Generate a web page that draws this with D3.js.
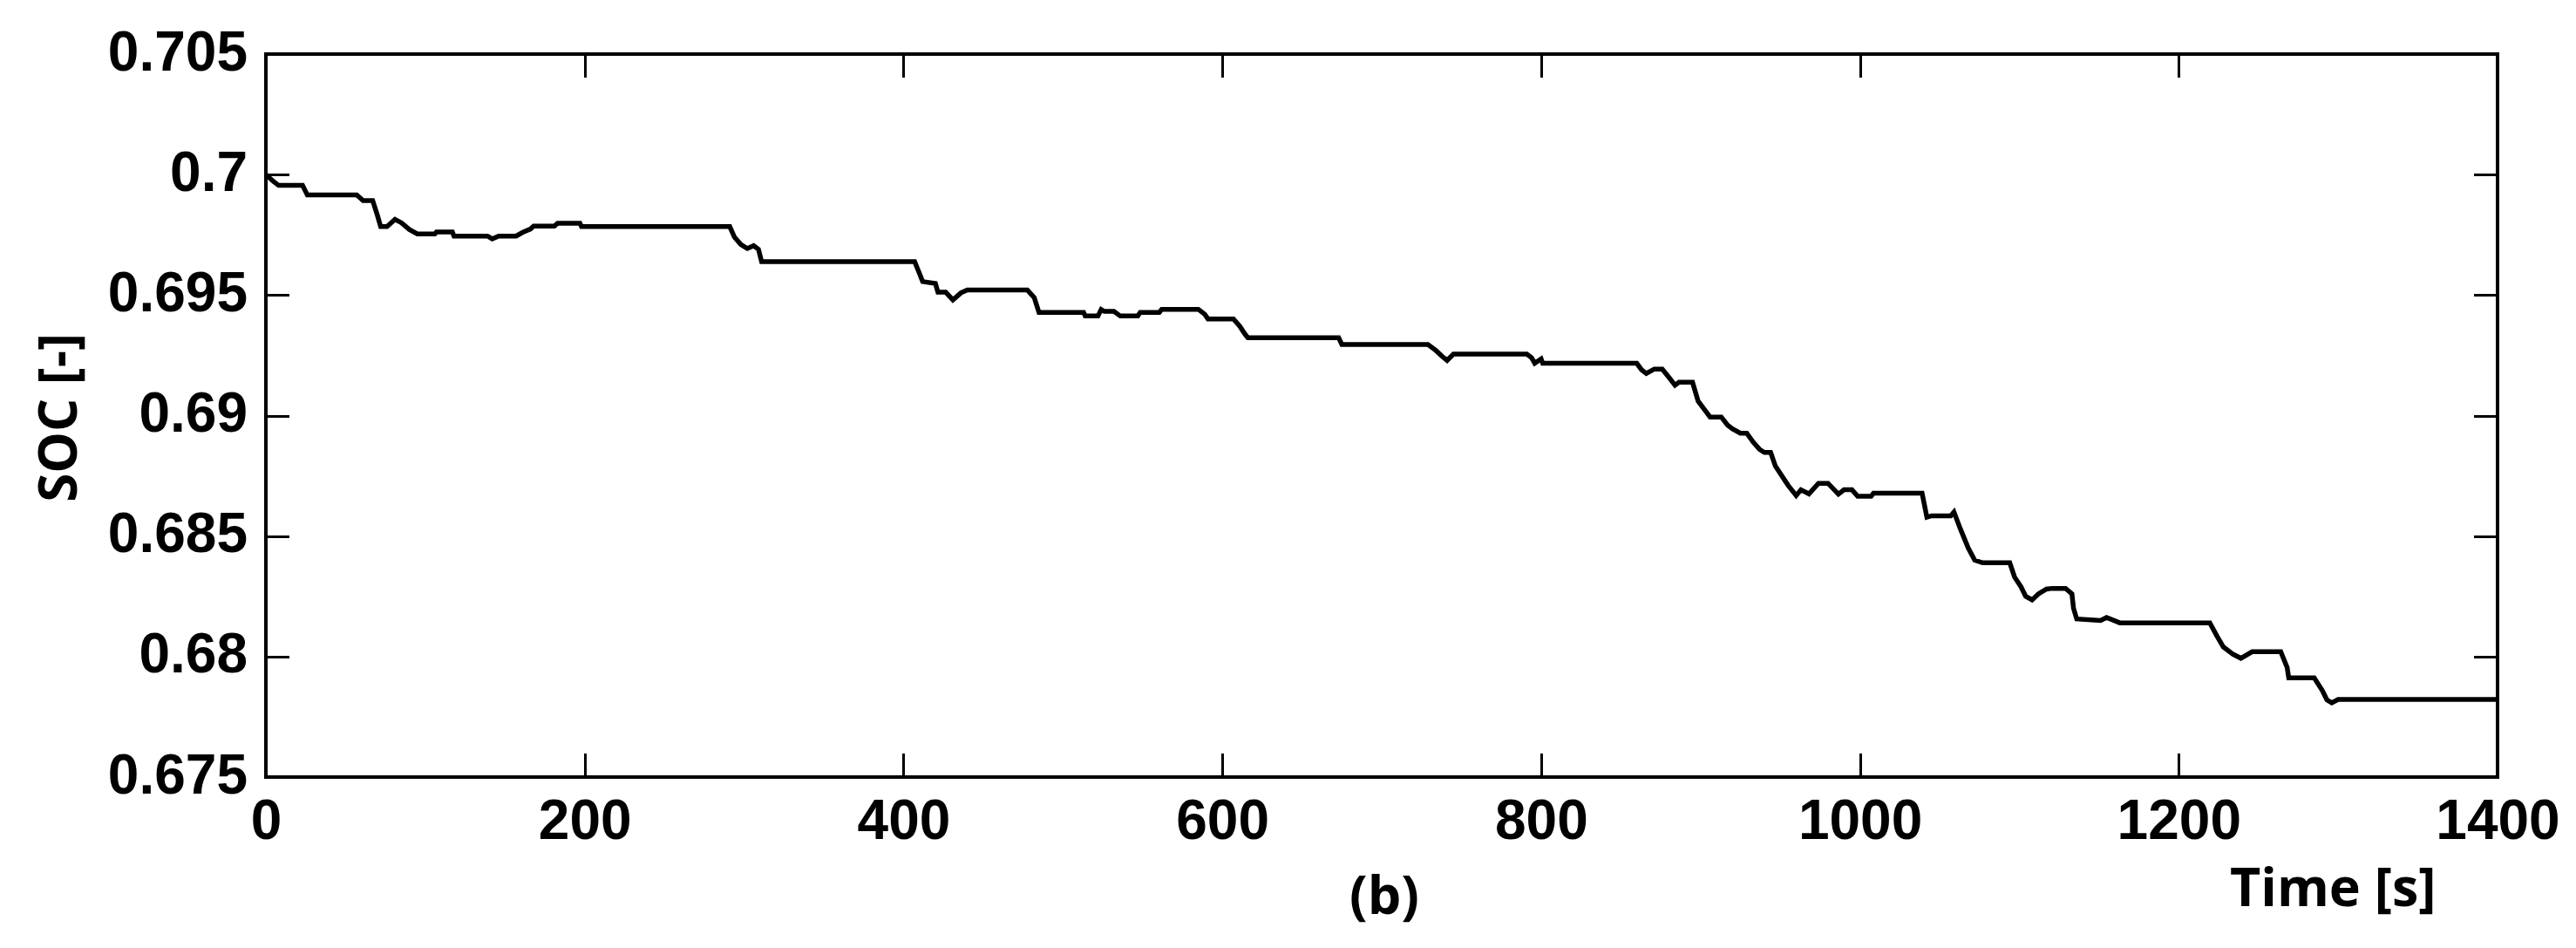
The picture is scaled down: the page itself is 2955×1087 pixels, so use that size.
<!DOCTYPE html>
<html>
<head>
<meta charset="utf-8">
<script src="https://cdn.jsdelivr.net/npm/d3@7"></script>
<style>
  html, body { margin: 0; padding: 0; background: #fff; }
  svg { display: block; }
</style>
</head>
<body>
<svg id="chart" width="2955" height="1087"></svg>
<script>
// ---- data ----
const timeS = [0, 5, 8, 23, 26, 57, 61, 67, 70, 72, 76, 81, 85, 90, 95, 106, 107, 117, 118, 139, 142, 146, 157, 161, 166, 168, 181, 183, 197, 198, 291, 294, 298, 302, 306, 309, 311, 407, 410, 412, 420, 421.6, 426.5, 431, 436, 440, 477.7, 482, 485, 513, 514, 522, 524, 526, 532, 536, 547, 548.5, 560.5, 562, 585, 589, 591, 607, 611, 614, 616, 673, 675, 729, 734, 738, 741, 745, 791, 794, 796, 800, 801, 860, 863, 866, 871, 876, 880, 884, 886.5, 895, 898.5, 903, 906, 913, 917, 920, 925, 929, 933, 937, 940, 944, 947, 950, 953, 955, 960, 963, 968, 974, 980, 986.5, 990, 995, 998.6, 1007, 1008.5, 1039, 1042, 1045, 1057, 1059, 1063, 1068, 1072, 1077, 1094, 1097, 1101, 1104, 1108, 1112, 1117, 1120.5, 1129, 1133, 1134, 1136, 1151, 1154.7, 1163, 1219.5, 1224, 1228, 1234, 1239, 1246, 1264, 1268, 1269, 1285, 1290, 1293, 1296, 1300, 1400];
const socValues = [0.7000, 0.6997, 0.69955, 0.69955, 0.69916, 0.69916, 0.69892, 0.69892, 0.6983, 0.69784, 0.69784, 0.69814, 0.69800, 0.69772, 0.69754, 0.69754, 0.69762, 0.69762, 0.69745, 0.69745, 0.69733, 0.69745, 0.69745, 0.6976, 0.69774, 0.69786, 0.69786, 0.69798, 0.69798, 0.69784, 0.69784, 0.6974, 0.6971, 0.69693, 0.69705, 0.6969, 0.69639, 0.69639, 0.6959, 0.69556, 0.69548, 0.69512, 0.69512, 0.6948, 0.69509, 0.69521, 0.69521, 0.6949, 0.69428, 0.69428, 0.69413, 0.69413, 0.6944, 0.69432, 0.69432, 0.69413, 0.69413, 0.69428, 0.69428, 0.69441, 0.69441, 0.6942, 0.69401, 0.69401, 0.6937, 0.6934, 0.69323, 0.69323, 0.69295, 0.69295, 0.6927, 0.69245, 0.69229, 0.69255, 0.69255, 0.6924, 0.69217, 0.69235, 0.69217, 0.69217, 0.6919, 0.69175, 0.69193, 0.69193, 0.6916, 0.69126, 0.69138, 0.69138, 0.6906, 0.6902, 0.68994, 0.68994, 0.6896, 0.68945, 0.68927, 0.68927, 0.6889, 0.6886, 0.68847, 0.68847, 0.6879, 0.6876, 0.6873, 0.6871, 0.68668, 0.68692, 0.68675, 0.68719, 0.68719, 0.68674, 0.68692, 0.68692, 0.68665, 0.68665, 0.68678, 0.68678, 0.68578, 0.68584, 0.68584, 0.6860, 0.6853, 0.6845, 0.6840, 0.68389, 0.68389, 0.6833, 0.6829, 0.6825, 0.68235, 0.6826, 0.6828, 0.68283, 0.68283, 0.6826, 0.6820, 0.68156, 0.6815, 0.68162, 0.6814, 0.6814, 0.68085, 0.6804, 0.6801, 0.67993, 0.6802, 0.6802, 0.67955, 0.67912, 0.67912, 0.6786, 0.6782, 0.67808, 0.67822, 0.67822];
const xTicks = [0, 200, 400, 600, 800, 1000, 1200, 1400];
const yTicks = [0.675, 0.68, 0.685, 0.69, 0.695, 0.7, 0.705];
const yTickLabels = ["0.675", "0.68", "0.685", "0.69", "0.695", "0.7", "0.705"];
const xLabel = "Time [s]";
const yLabel = "SOC [-]";
const panelLabel = "(b)";
const topPanelLabel = "(a)";

// ---- layout ----
const svg = d3.select("#chart");
const L = 305, R = 2865, T = 62, B = 891;
const x = d3.scaleLinear().domain([0, 1400]).range([L, R]);
const y = d3.scaleLinear().domain([0.675, 0.705]).range([B, T]);

const tickFont = "'Liberation Sans', Arial, sans-serif";
const labelFont = "'Open Sans', 'Noto Sans', sans-serif";

// axes with inward ticks on all four sides
const tickLen = 27;
const gB = svg.append("g").attr("transform", `translate(0,${B})`)
  .call(d3.axisBottom(x).tickValues(xTicks).tickSize(-tickLen).tickFormat(d3.format("d")));
const gT = svg.append("g").attr("transform", `translate(0,${T})`)
  .call(d3.axisTop(x).tickValues(xTicks).tickSize(-tickLen).tickFormat(""));
const gL = svg.append("g").attr("transform", `translate(${L},0)`)
  .call(d3.axisLeft(y).tickValues(yTicks).tickSize(-tickLen)
    .tickFormat((d, i) => yTickLabels[i]));
const gR = svg.append("g").attr("transform", `translate(${R},0)`)
  .call(d3.axisRight(y).tickValues(yTicks).tickSize(-tickLen).tickFormat(""));

[gB, gT, gL, gR].forEach(g => {
  g.select(".domain").remove();
  g.selectAll(".tick line").attr("stroke", "#000").attr("stroke-width", 3).attr("shape-rendering", "crispEdges");
  g.selectAll(".tick text").attr("fill", "#000").attr("font-family", tickFont)
    .attr("font-weight", "bold").attr("font-size", 64);
});
gB.selectAll(".tick text").attr("dy", null).attr("y", 71);
gL.selectAll(".tick text").attr("dy", null).attr("x", -21).attr("y", 18);

// frame
svg.append("rect").attr("x", L).attr("y", T).attr("width", R - L).attr("height", B - T)
  .attr("fill", "none").attr("stroke", "#000").attr("stroke-width", 4).attr("shape-rendering", "crispEdges");

// line
const data = timeS.map((t, i) => ({ t, v: socValues[i] }));
svg.append("path").datum(data)
  .attr("d", d3.line().x(d => x(d.t)).y(d => y(d.v)))
  .attr("fill", "none").attr("stroke", "#000").attr("stroke-width", 5.5)
  .attr("stroke-linejoin", "miter");

// labels
svg.append("text").attr("x", 2558).attr("y", 1039).attr("font-family", labelFont)
  .attr("font-weight", "bold").attr("font-size", 61).attr("fill", "#000").text(xLabel);
svg.append("text").attr("transform", "translate(88,479) rotate(-90)").attr("text-anchor", "middle")
  .attr("font-family", labelFont).attr("font-weight", "bold").attr("font-size", 60)
  .attr("fill", "#000").text(yLabel);
svg.append("text").attr("x", 1588).attr("y", 1048).attr("text-anchor", "middle")
  .attr("font-family", labelFont).attr("font-weight", "bold").attr("font-size", 61)
  .attr("fill", "#000").text(panelLabel);
// the previous panel's label, cut by the top edge as in the reference
svg.append("text").attr("x", 1588).attr("y", -14).attr("text-anchor", "middle")
  .attr("font-family", labelFont).attr("font-weight", "bold").attr("font-size", 61)
  .attr("fill", "#000").text(topPanelLabel);
</script>
</body>
</html>
